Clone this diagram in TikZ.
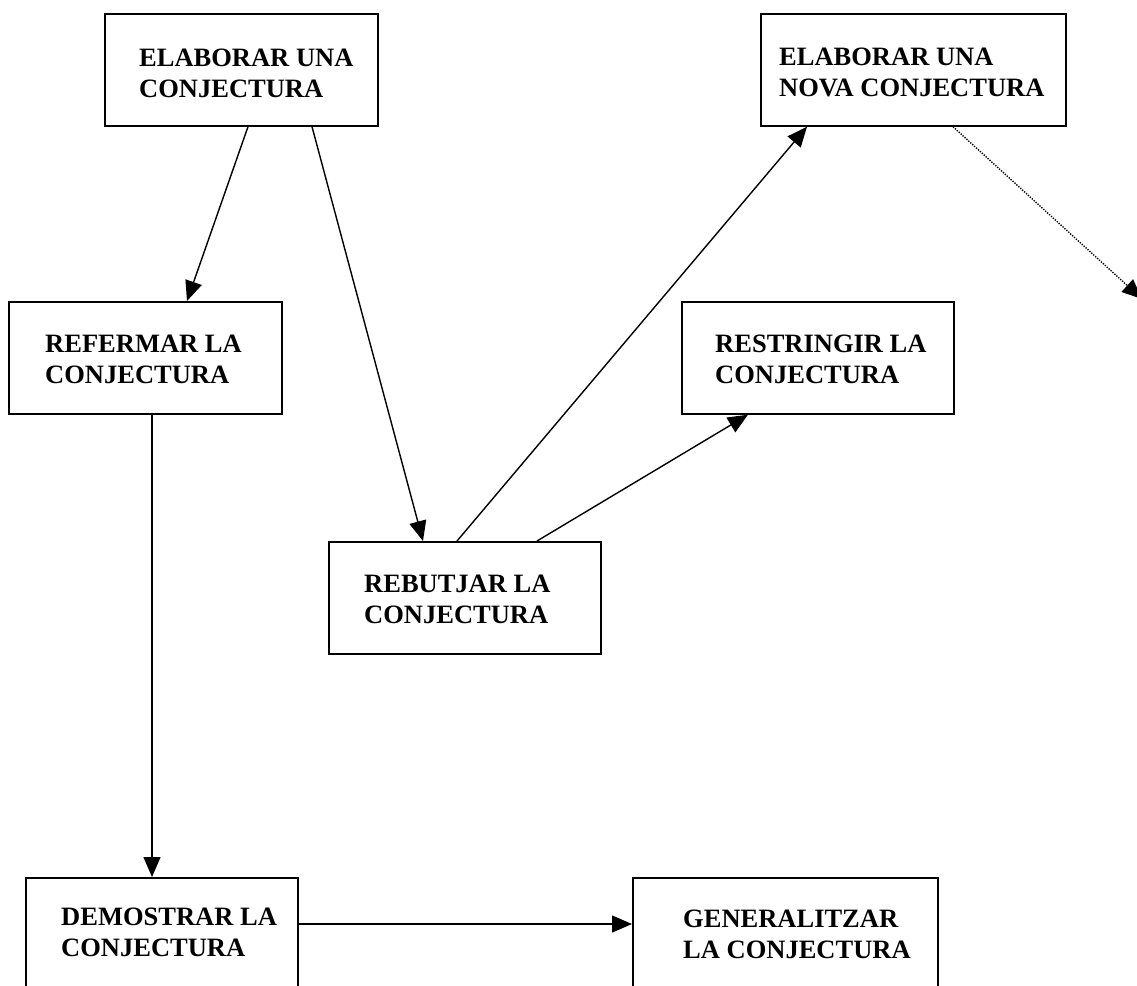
\documentclass[tikz,border=0pt]{standalone}
\usepackage{fontspec}
\setmainfont{Liberation Serif}
\usetikzlibrary{arrows.meta}
\tikzset{
  box/.style={draw, line width=1.7pt, rectangle, anchor=north west, inner sep=0pt, minimum height=112pt},
  lbl/.style={anchor=north west, inner sep=0pt, align=left, font=\fontsize{26.5}{30.5}\selectfont\bfseries},
  arr/.style={line width=1.4pt, -{Triangle[length=20pt,width=17pt]}},
  dotarr/.style={line width=1.4pt, dash pattern=on 1.3pt off 1.3pt, -{Triangle[length=20pt,width=17pt]}}
}
\begin{document}
\begin{tikzpicture}[x=1pt,y=-1pt]
\useasboundingbox (0,0) rectangle (1137,985);
\clip (0,0) rectangle (1137,985);
% boxes
\node[box, minimum width=273pt] (A) at (104,13) {};
\node[box, minimum width=305pt] (B) at (760,13) {};
\node[box, minimum width=273pt] (C) at (8,301) {};
\node[box, minimum width=272pt] (D) at (681,301) {};
\node[box, minimum width=272pt] (E) at (328,541) {};
\node[box, minimum width=272pt] (F) at (25,877) {};
\node[box, minimum width=305pt] (G) at (632,877) {};
% labels
\node[lbl] (tA) at (139,49) {ELABORAR UNA\\CONJECTURA};
\node[lbl] (tB) at (779,48) {ELABORAR UNA\\NOVA CONJECTURA};
\node[lbl] (tC) at (45,335) {REFERMAR LA\\CONJECTURA};
\node[lbl] (tD) at (715,335) {RESTRINGIR LA\\CONJECTURA};
\node[lbl] (tE) at (364,575) {REBUTJAR LA\\CONJECTURA};
\node[lbl] (tF) at (61,908) {DEMOSTRAR LA\\CONJECTURA};
\node[lbl] (tG) at (683,910) {GENERALITZAR\\LA CONJECTURA};
\coordinate (free) at (1142,299);
% connectors
\draw[arr] ([xshift=144pt]A.south west) -- ([xshift=179pt]C.north west);
\draw[arr] ([xshift=208pt]A.south west) -- ([xshift=95pt]E.north west);
\draw[arr] ([xshift=144pt]C.south west) -- ([xshift=127pt]F.north west);
\draw[arr] ([xshift=129pt]E.north west) -- ([xshift=47pt]B.south west);
\draw[arr] ([xshift=209pt]E.north west) -- ([xshift=67pt]D.south west);
\draw[dotarr] ([xshift=193pt]B.south west) -- (free);
\draw[arr] ([yshift=-47pt]F.north east) -- ([yshift=-47pt]G.north west);
\end{tikzpicture}
\end{document}
